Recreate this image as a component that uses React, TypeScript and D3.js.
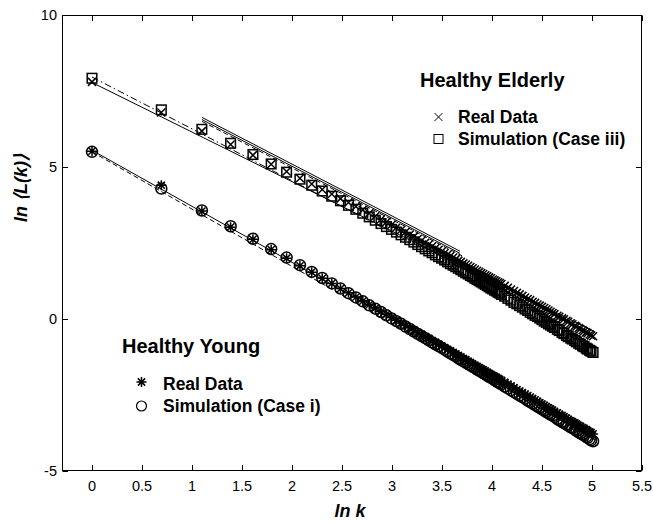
import React from "react";
import * as d3 from "d3";

// k values (x axis shows ln k)
const kValues = [
  1, 2, 3, 4, 5, 6, 7, 8, 9, 10, 11, 12, 13, 14, 15, 16, 17, 18, 19, 20, 21, 22, 23, 24, 25, 26, 27, 28, 29, 30,
  31, 32, 33, 34, 35, 36, 37, 38, 39, 40, 41, 42, 43, 44, 45, 46, 47, 48, 49, 50, 51, 52, 53, 54, 55, 56, 57, 58, 59, 60,
  62, 64, 66, 68, 70, 72, 74, 76, 78, 80, 82, 84, 86, 88, 90, 92, 94, 96, 98, 100,
  102, 105, 107, 110, 112, 115, 117, 120, 122, 125, 127, 130, 132, 135, 137, 140, 142, 145, 147, 150,
];

// Healthy Young – real data (asterisks)
const youngReal = [
  5.52, 4.4, 3.55, 3.02, 2.62, 2.28, 2.0, 1.75, 1.54, 1.34, 1.17, 1.0, 0.86, 0.72, 0.59, 0.47, 0.36, 0.25, 0.15, 0.05, -0.04, -0.13, -0.21, -0.29, -0.37, -0.44, -0.51, -0.58, -0.64, -0.71,
  -0.77, -0.83, -0.89, -0.94, -1.0, -1.05, -1.1, -1.15, -1.2, -1.25, -1.3, -1.34, -1.39, -1.43, -1.48, -1.52, -1.56, -1.6, -1.64, -1.67, -1.71, -1.75, -1.79, -1.82, -1.86, -1.89, -1.92, -1.95, -1.99, -2.02,
  -2.08, -2.14, -2.2, -2.26, -2.32, -2.37, -2.42, -2.47, -2.52, -2.57, -2.62, -2.66, -2.71, -2.75, -2.8, -2.84, -2.88, -2.92, -2.96, -3.0,
  -3.04, -3.09, -3.13, -3.18, -3.21, -3.26, -3.3, -3.35, -3.38, -3.42, -3.45, -3.5, -3.53, -3.57, -3.6, -3.64, -3.67, -3.71, -3.74, -3.78,
];

// Healthy Young – simulation case i (circles)
const youngSim = [
  5.5, 4.29, 3.57, 3.05, 2.64, 2.3, 2.02, 1.77, 1.55, 1.35, 1.17, 1.0, 0.85, 0.71, 0.58, 0.45, 0.34, 0.23, 0.12, 0.02, -0.07, -0.16, -0.25, -0.33, -0.41, -0.49, -0.56, -0.63, -0.7, -0.77,
  -0.83, -0.89, -0.95, -1.01, -1.07, -1.13, -1.18, -1.23, -1.29, -1.34, -1.39, -1.43, -1.48, -1.52, -1.57, -1.61, -1.66, -1.7, -1.74, -1.78, -1.82, -1.86, -1.9, -1.93, -1.97, -2.01, -2.05, -2.08, -2.12, -2.15,
  -2.22, -2.28, -2.34, -2.4, -2.46, -2.52, -2.57, -2.62, -2.68, -2.73, -2.78, -2.83, -2.88, -2.92, -2.97, -3.01, -3.06, -3.1, -3.14, -3.18,
  -3.22, -3.29, -3.33, -3.38, -3.42, -3.47, -3.51, -3.56, -3.59, -3.64, -3.68, -3.73, -3.76, -3.8, -3.83, -3.88, -3.91, -3.95, -3.99, -4.02,
];

// Healthy Elderly – real data (x)
const elderlyReal = [
  7.8, 6.79, 6.18, 5.74, 5.39, 5.09, 4.85, 4.63, 4.44, 4.26, 4.11, 3.96, 3.83, 3.7, 3.59, 3.48, 3.38, 3.28, 3.19, 3.1, 3.01, 2.93, 2.86, 2.78, 2.71, 2.64, 2.58, 2.51, 2.45, 2.39,
  2.33, 2.28, 2.22, 2.17, 2.12, 2.07, 2.02, 1.97, 1.92, 1.88, 1.83, 1.79, 1.75, 1.71, 1.67, 1.63, 1.59, 1.55, 1.51, 1.48, 1.44, 1.41, 1.37, 1.34, 1.3, 1.27, 1.24, 1.21, 1.18, 1.15,
  1.09, 1.03, 0.97, 0.92, 0.86, 0.81, 0.76, 0.71, 0.66, 0.62, 0.57, 0.53, 0.48, 0.44, 0.4, 0.36, 0.32, 0.28, 0.24, 0.2,
  0.16, 0.11, 0.07, 0.02, -0.01, -0.06, -0.09, -0.14, -0.17, -0.22, -0.25, -0.3, -0.33, -0.37, -0.4, -0.44, -0.47, -0.51, -0.54, -0.57,
];

// Healthy Elderly – simulation case iii (squares)
const elderlySim = [
  7.92, 6.88, 6.24, 5.78, 5.41, 5.1, 4.83, 4.6, 4.4, 4.21, 4.04, 3.89, 3.74, 3.61, 3.48, 3.36, 3.25, 3.14, 3.04, 2.95, 2.86, 2.77, 2.69, 2.61, 2.53, 2.45, 2.38, 2.31, 2.24, 2.18,
  2.11, 2.05, 2.0, 1.94, 1.88, 1.82, 1.77, 1.72, 1.67, 1.62, 1.57, 1.52, 1.48, 1.43, 1.39, 1.34, 1.3, 1.26, 1.22, 1.18, 1.14, 1.1, 1.06, 1.02, 0.99, 0.95, 0.92, 0.88, 0.85, 0.81,
  0.75, 0.68, 0.62, 0.55, 0.5, 0.44, 0.39, 0.33, 0.28, 0.22, 0.17, 0.12, 0.08, 0.03, -0.02, -0.07, -0.11, -0.16, -0.2, -0.24,
  -0.28, -0.34, -0.38, -0.44, -0.48, -0.54, -0.58, -0.63, -0.66, -0.71, -0.75, -0.8, -0.83, -0.88, -0.91, -0.96, -0.99, -1.03, -1.06, -1.1,
];

// Fit lines: start/end in data units and dash style
const fitX1 = [0, 0, 0, 0, 1.1, 1.1, 1.1];
const fitY1 = [5.55, 5.5, 7.78, 7.96, 6.63, 6.56, 6.5];
const fitX2 = [5.03, 5.03, 5.03, 5.03, 3.68, 3.68, 3.7];
const fitY2 = [-3.72, -3.98, -0.42, -0.62, 2.23, 2.16, 2.08];
const fitDash = ["", "5,3", "", "7,3,1.5,3", "", "", "5,3"];

const xTicks = [0, 0.5, 1, 1.5, 2, 2.5, 3, 3.5, 4, 4.5, 5, 5.5];
const yTicks = [-5, 0, 5, 10];

const W = 653;
const H = 522;
const x = d3.scaleLinear().domain([-0.3, 5.5]).range([62, 642]);
const y = d3.scaleLinear().domain([-5, 10]).range([471, 15]);

const font = "'Liberation Sans', Arial, Helvetica, sans-serif";
const SW = 1.5;

function Asterisk({ cx, cy, r, sw = SW }: { cx: number; cy: number; r: number; sw?: number }) {
  const d = r * 0.72;
  return (
    <path
      d={`M${cx - r},${cy}L${cx + r},${cy}M${cx},${cy - r}L${cx},${cy + r}M${cx - d},${cy - d}L${cx + d},${cy + d}M${cx - d},${cy + d}L${cx + d},${cy - d}`}
      stroke="#000"
      strokeWidth={sw}
      fill="none"
    />
  );
}
function Cross({ cx, cy, r, sw = SW }: { cx: number; cy: number; r: number; sw?: number }) {
  return (
    <path
      d={`M${cx - r},${cy - r}L${cx + r},${cy + r}M${cx - r},${cy + r}L${cx + r},${cy - r}`}
      stroke="#000"
      strokeWidth={sw}
      fill="none"
    />
  );
}
function Square({ cx, cy, r, sw = SW }: { cx: number; cy: number; r: number; sw?: number }) {
  return <rect x={cx - r} y={cy - r} width={2 * r} height={2 * r} stroke="#000" strokeWidth={sw} fill="none" />;
}
function Circle({ cx, cy, r, sw = SW }: { cx: number; cy: number; r: number; sw?: number }) {
  return <circle cx={cx} cy={cy} r={r} stroke="#000" strokeWidth={sw} fill="none" />;
}

export default function App() {
  const lx = kValues.map((k) => x(Math.log(k)));
  return (
    <svg
      width={W}
      height={H}
      style={{ position: "absolute", left: 0, top: 0, background: "#fff" }}
      fontFamily={font}
    >
      <rect x={0} y={0} width={W} height={H} fill="#fff" />
      {/* fit lines */}
      {fitX1.map((v, i) => (
        <line
          key={"f" + i}
          x1={x(v)}
          y1={y(fitY1[i])}
          x2={x(fitX2[i])}
          y2={y(fitY2[i])}
          stroke="#000"
          strokeWidth={1}
          strokeDasharray={fitDash[i] || undefined}
        />
      ))}
      {/* markers */}
      {youngSim.map((v, i) => (
        <Circle key={"ys" + i} cx={lx[i]} cy={y(v)} r={5.5} />
      ))}
      {youngReal.map((v, i) => (
        <Asterisk key={"yr" + i} cx={lx[i]} cy={y(v)} r={5} />
      ))}
      {elderlySim.map((v, i) => (
        <Square key={"es" + i} cx={lx[i]} cy={y(v)} r={4.8} />
      ))}
      {elderlyReal.map((v, i) => (
        <Cross key={"er" + i} cx={lx[i]} cy={y(v)} r={4} />
      ))}

      {/* axes box */}
      <rect x={62.5} y={15.5} width={579} height={455} fill="none" stroke="#000" strokeWidth={1} />
      {xTicks.map((t) => (
        <g key={"xt" + t}>
          <line x1={Math.round(x(t)) + 0.5} x2={Math.round(x(t)) + 0.5} y1={470.5} y2={465} stroke="#000" />
          <line x1={Math.round(x(t)) + 0.5} x2={Math.round(x(t)) + 0.5} y1={15.5} y2={21} stroke="#000" />
          <text x={x(t)} y={491} textAnchor="middle" fontSize={14.5}>
            {String(t)}
          </text>
        </g>
      ))}
      {yTicks.map((t) => (
        <g key={"yt" + t}>
          <line x1={62.5} x2={68} y1={Math.round(y(t)) + 0.5} y2={Math.round(y(t)) + 0.5} stroke="#000" />
          <line x1={641.5} x2={636} y1={Math.round(y(t)) + 0.5} y2={Math.round(y(t)) + 0.5} stroke="#000" />
          <text x={57} y={y(t) + 5} textAnchor="end" fontSize={14.5}>
            {String(t)}
          </text>
        </g>
      ))}

      {/* axis labels */}
      <text x={350} y={517} textAnchor="middle" fontSize={18} fontWeight="bold" fontStyle="italic">
        ln k
      </text>
      <text
        transform="translate(27,188) rotate(-90)"
        textAnchor="middle"
        fontSize={18}
        fontWeight="bold"
        fontStyle="italic"
      >
        ln ⟨L(k)⟩
      </text>

      {/* legend: elderly */}
      <text x={420} y={87} fontSize={20} fontWeight="bold">
        Healthy Elderly
      </text>
      <Cross cx={438.5} cy={117} r={4} sw={1} />
      <text x={458} y={123} fontSize={17.5} fontWeight="bold">
        Real Data
      </text>
      <Square cx={438.5} cy={139} r={4.5} sw={1} />
      <text x={458} y={145} fontSize={17.5} fontWeight="bold">
        Simulation (Case iii)
      </text>

      {/* legend: young */}
      <text x={122} y={353} fontSize={20} fontWeight="bold">
        Healthy Young
      </text>
      <Asterisk cx={141.5} cy={382} r={5} />
      <text x={163} y={390} fontSize={17.5} fontWeight="bold">
        Real Data
      </text>
      <Circle cx={141.5} cy={406} r={5} sw={1.2} />
      <text x={163} y={412} fontSize={17.5} fontWeight="bold">
        Simulation (Case i)
      </text>
    </svg>
  );
}
